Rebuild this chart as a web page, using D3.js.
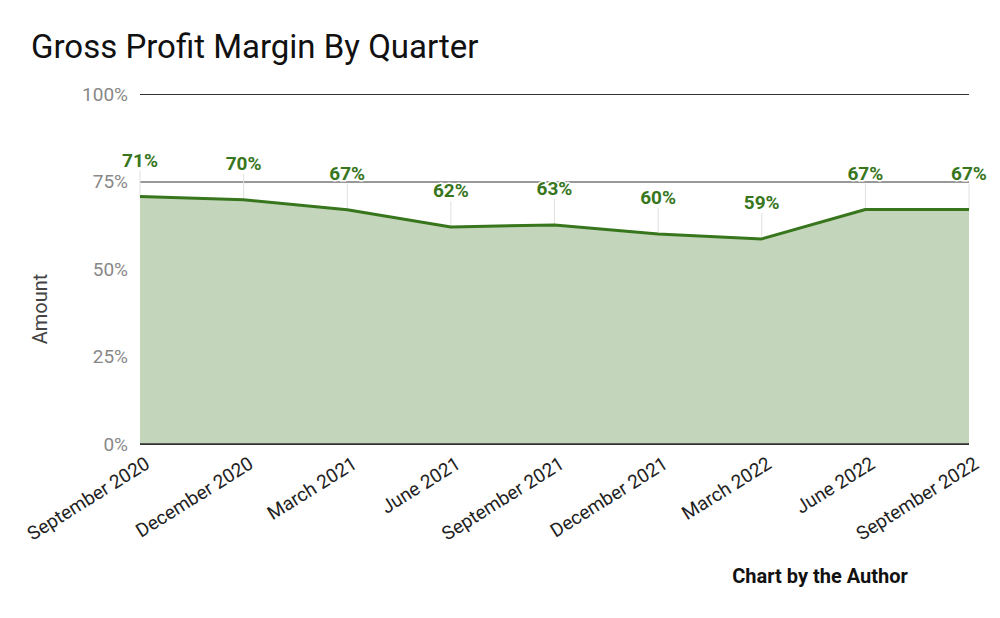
<!DOCTYPE html>
<html>
<head>
<meta charset="utf-8">
<script src="https://cdn.jsdelivr.net/npm/d3@7"></script>
<style>
	body { margin: 0; background: #fff; }
	text { font-family: Roboto, sans-serif; }
</style>
</head>
<body>
<div id="plot"></div>
<script>
// quarters and gross margin (%)
var quarters = ["September 2020", "December 2020", "March 2021", "June 2021", "September 2021",
	"December 2021", "March 2022", "June 2022", "September 2022"];
var margins = [70.7, 69.8, 66.9, 62.0, 62.6, 60.0, 58.6, 67.0, 67.0];
var yTicks = [0, 25, 50, 75, 100];

var W = 1000, H = 618;
var margin = { top: 94, right: 31, bottom: 174, left: 140 },
	width = W - margin.left - margin.right, height = H - margin.top - margin.bottom;

var svg = d3.select("#plot").append("svg")
	.attr("width", W).attr("height", H);

svg.append("text")
	.attr("x", 31).attr("y", 58)
	.attr("font-size", 33).attr("fill", "#111")
	.text("Gross Profit Margin By Quarter");

var g = svg.append("g")
	.attr("transform", "translate(" + margin.left + "," + margin.top + ")");

var xScale = d3.scalePoint().domain(quarters).range([0, width]);
var yScale = d3.scaleLinear().domain([0, 100]).range([height, 0]);

//gridlines + y labels
var yAxis = g.append("g")
	.call(d3.axisLeft(yScale).tickValues(yTicks).tickSize(-width).tickPadding(12)
		.tickFormat(function (d) { return d + "%"; }));
yAxis.select(".domain").remove();
yAxis.selectAll("line").attr("stroke", "#333").attr("stroke-width", 1);
yAxis.selectAll("text").attr("fill", "#888").attr("font-size", 19)
	.attr("font-family", "Roboto, sans-serif");

var pts = quarters.map(function (q, i) { return { q: q, v: margins[i] }; });

//area + line
g.append("path").datum(pts)
	.attr("fill", "#c3d6bb")
	.attr("d", d3.area()
		.x(function (d) { return xScale(d.q); })
		.y0(height)
		.y1(function (d) { return yScale(d.v); }));

g.append("line")
	.attr("x1", 0).attr("x2", width).attr("y1", height).attr("y2", height)
	.attr("stroke", "#333").attr("stroke-width", 1.5);

//drop lines to labels
g.selectAll(".drop").data(pts).enter().append("line")
	.attr("x1", function (d) { return xScale(d.q); })
	.attr("x2", function (d) { return xScale(d.q); })
	.attr("y1", function (d) { return yScale(d.v); })
	.attr("y2", function (d) { return yScale(d.v) - 26; })
	.attr("stroke", "#e0e0e0").attr("stroke-width", 1);

g.append("path").datum(pts)
	.attr("fill", "none")
	.attr("stroke", "#38761d").attr("stroke-width", 3)
	.attr("stroke-linejoin", "round")
	.attr("d", d3.line()
		.x(function (d) { return xScale(d.q); })
		.y(function (d) { return yScale(d.v); }));

//value labels
g.selectAll(".lbl").data(pts).enter().append("text")
	.attr("x", function (d) { return xScale(d.q); })
	.attr("y", function (d) { return yScale(d.v) - 30; })
	.attr("text-anchor", "middle")
	.attr("font-size", 19).attr("font-weight", "bold")
	.attr("fill", "#38761d")
	.attr("stroke", "#fff").attr("stroke-width", 3).attr("paint-order", "stroke")
	.text(function (d) { return Math.round(d.v) + "%"; });

//x labels
g.selectAll(".xl").data(quarters).enter().append("text")
	.attr("transform", function (d) {
		return "translate(" + (xScale(d) + 11) + "," + (height + 23) + ") rotate(-32)";
	})
	.attr("text-anchor", "end")
	.attr("font-size", 19).attr("fill", "#222")
	.text(function (d) { return d; });

//axis title
svg.append("text")
	.attr("transform", "translate(47,309) rotate(-90)")
	.attr("text-anchor", "middle")
	.attr("font-size", 20).attr("fill", "#444")
	.text("Amount");

svg.append("text")
	.attr("x", 820).attr("y", 583)
	.attr("text-anchor", "middle")
	.attr("font-size", 20).attr("font-weight", "bold").attr("fill", "#111")
	.text("Chart by the Author");
</script>
</body>
</html>
